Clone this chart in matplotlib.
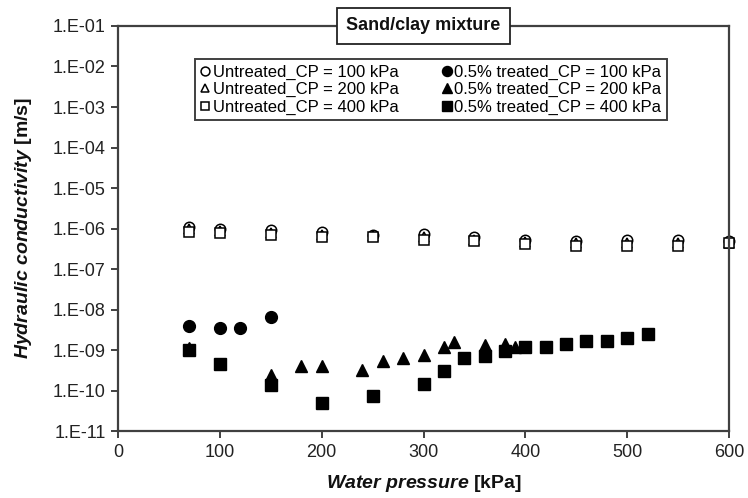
import numpy as np
import matplotlib
matplotlib.use("Agg")
import matplotlib.pyplot as plt
from matplotlib.ticker import FixedLocator, FuncFormatter, NullLocator

plt.rcParams['font.family'] = ['Liberation Sans', 'DejaVu Sans']
plt.rcParams['mathtext.fontset'] = 'custom'
plt.rcParams['mathtext.rm'] = 'Liberation Sans'
plt.rcParams['mathtext.it'] = 'Liberation Sans:italic'
plt.rcParams['mathtext.bf'] = 'Liberation Sans:bold'
plt.rcParams['mathtext.bfit'] = 'Liberation Sans:italic:bold'

# ---- data ----
x_untreated = [70, 100, 150, 200, 250, 300, 350, 400, 450, 500, 550, 600]
k_untr_100 = [1.1e-6, 1.0e-6, 9.0e-7, 8.3e-7, 7.0e-7, 7.2e-7, 6.0e-7, 5.3e-7, 5.0e-7, 5.2e-7, 5.2e-7, 4.8e-7]
k_untr_200 = [9.5e-7, 8.6e-7, 7.8e-7, 7.0e-7, 6.5e-7, 6.0e-7, 5.2e-7, 4.6e-7, 4.3e-7, 4.4e-7, 4.4e-7, 4.4e-7]
k_untr_400 = [8.2e-7, 7.6e-7, 6.8e-7, 6.2e-7, 6.0e-7, 5.3e-7, 4.8e-7, 4.2e-7, 3.8e-7, 3.8e-7, 3.7e-7, 4.3e-7]

x_tr_100 = [70, 100, 120, 150]
k_tr_100 = [4.0e-9, 3.4e-9, 3.4e-9, 6.6e-9]

x_tr_200 = [70, 150, 180, 200, 240, 260, 280, 300, 320, 330, 360, 380, 390]
k_tr_200 = [1.1e-9, 2.4e-10, 4.0e-10, 4.0e-10, 3.2e-10, 5.5e-10, 6.5e-10, 7.4e-10, 1.2e-9, 1.55e-9, 1.33e-9, 1.38e-9, 1.2e-9]

x_tr_400 = [70, 100, 150, 200, 250, 300, 320, 340, 360, 380, 400, 420, 440, 460, 480, 500, 520]
k_tr_400 = [1.0e-9, 4.5e-10, 1.4e-10, 5.0e-11, 7.4e-11, 1.45e-10, 3.0e-10, 6.5e-10, 7.1e-10, 9.5e-10,
            1.17e-9, 1.17e-9, 1.4e-9, 1.67e-9, 1.67e-9, 2.0e-9, 2.5e-9]

labels = ["Untreated_CP = 100 kPa", "Untreated_CP = 200 kPa", "Untreated_CP = 400 kPa",
          "0.5% treated_CP = 100 kPa", "0.5% treated_CP = 200 kPa", "0.5% treated_CP = 400 kPa"]
x_ticks = [0, 100, 200, 300, 400, 500, 600]
y_ticks = [1e-11, 1e-10, 1e-9, 1e-8, 1e-7, 1e-6, 1e-5, 1e-4, 1e-3, 1e-2, 1e-1]

# ---- figure ----
fig = plt.figure(figsize=(7.48, 4.98), dpi=100)
ax = fig.add_axes([0.1578, 0.1345, 0.8168, 0.8133])

ms = 7.5
h1, = ax.plot(x_untreated, k_untr_100, 'o', ms=ms, mfc='white', mec='black', mew=1.1, ls='none', clip_on=False)
h2, = ax.plot(x_untreated, k_untr_200, '^', ms=ms, mfc='white', mec='black', mew=1.1, ls='none', clip_on=False)
h3, = ax.plot(x_untreated, k_untr_400, 's', ms=ms, mfc='white', mec='black', mew=1.1, ls='none', clip_on=False)
h4, = ax.plot(x_tr_100, k_tr_100, 'o', ms=8.5, color='black', ls='none', clip_on=False)
h5, = ax.plot(x_tr_200, k_tr_200, '^', ms=8.5, color='black', ls='none', clip_on=False)
h6, = ax.plot(x_tr_400, k_tr_400, 's', ms=8.5, color='black', ls='none', clip_on=False)

ax.set_yscale('log')
ax.set_xlim(0, 600)
ax.set_ylim(1e-11, 1e-1)
ax.xaxis.set_major_locator(FixedLocator(x_ticks))
ax.yaxis.set_major_locator(FixedLocator(y_ticks))
ax.yaxis.set_minor_locator(NullLocator())
ax.yaxis.set_major_formatter(FuncFormatter(lambda v, p: "1.E%03d" % int(round(np.log10(v)))))

spine_c = '#404040'
for s in ax.spines.values():
    s.set_color(spine_c)
    s.set_linewidth(1.6)
ax.tick_params(axis='both', direction='out', length=5, width=1.4, color=spine_c,
               labelsize=13, labelcolor='#222222', pad=4)

leg = ax.legend([h1, h2, h3, h4, h5, h6], labels, ncol=2, loc='upper center',
                bbox_to_anchor=(0.512, 0.938), fontsize=12, frameon=True, fancybox=False,
                edgecolor=spine_c, framealpha=1, handlelength=0.6, handletextpad=0.15,
                columnspacing=2.6, labelspacing=0.15, borderpad=0.3, markerscale=0.85)
leg.get_frame().set_linewidth(1.4)

ax.text(0.5, 1.0, "Sand/clay mixture", transform=ax.transAxes, ha='center', va='center',
        fontsize=13, fontweight='bold', color='#111111',
        bbox=dict(boxstyle='square,pad=0.5', fc='white', ec='#222222', lw=1.3), zorder=5)

fig.text(424 / 748, 1 - 483 / 498, r'$\mathbfit{Water\ pressure}$ [kPa]', ha='center', va='center',
         fontsize=14, fontweight='bold', color='#111111')
fig.text(24 / 748, 1 - 228 / 498, r'$\mathbfit{Hydraulic\ conductivity}$ [m/s]', ha='center',
         va='center', rotation=90, fontsize=14, fontweight='bold', color='#111111')

fig.savefig("out.png", dpi=100)
